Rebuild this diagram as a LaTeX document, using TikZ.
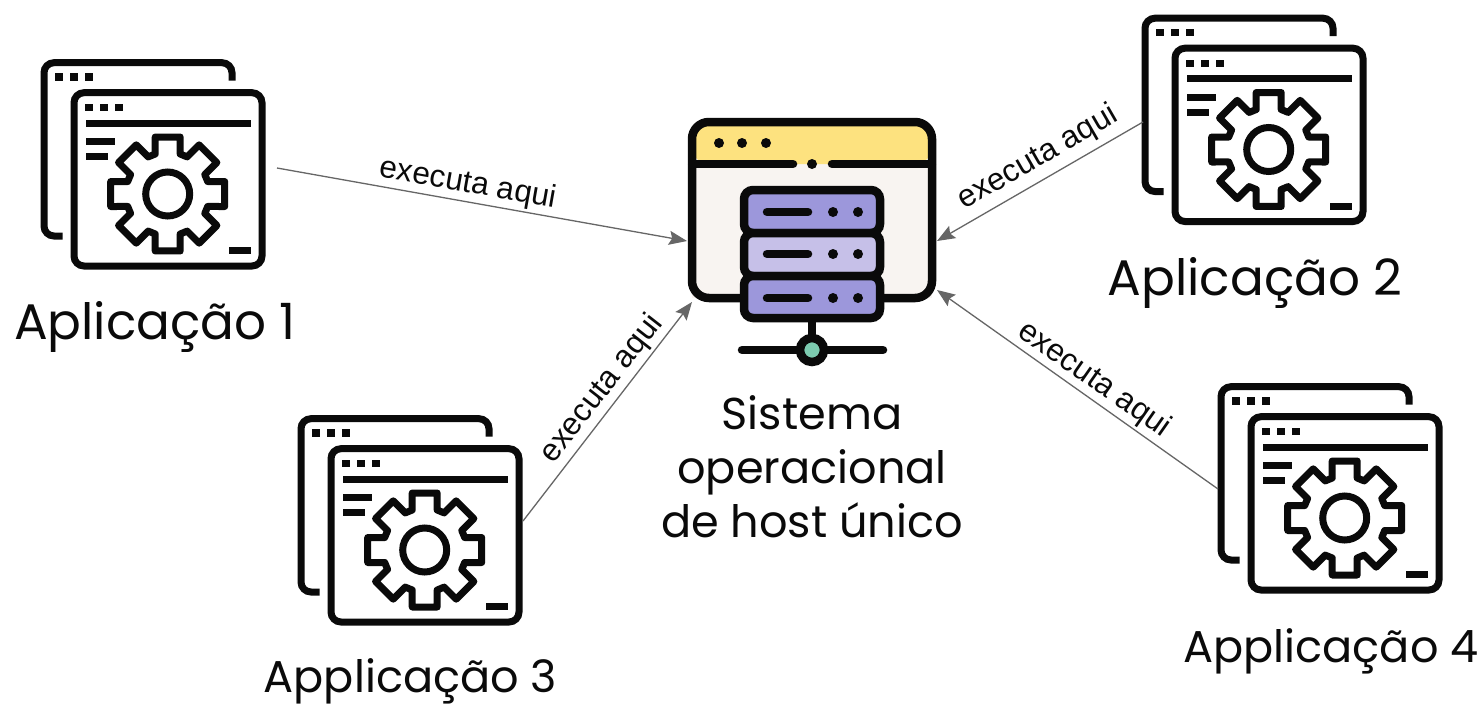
\documentclass[tikz,border=0pt]{standalone}
\usepackage{fontspec}
\setmainfont{Poppins}
\newfontfamily\arialish{Liberation Sans}
\usetikzlibrary{arrows.meta}
\definecolor{srvyellow}{HTML}{FDE27F}
\definecolor{srvbody}{HTML}{F8F4F1}
\definecolor{rackdark}{HTML}{9C97DB}
\definecolor{racklight}{HTML}{C6C0E8}
\definecolor{netgreen}{HTML}{7CCBB0}
\definecolor{ink}{HTML}{0A0A0A}
\definecolor{wire}{HTML}{666666}
\tikzset{
  iconline/.style={draw=ink,line width=7pt},
  srvline/.style={draw=ink,line width=8.5pt,line cap=round},
  iconbox/.style={minimum width=226pt,minimum height=214pt,inner sep=0pt,outer sep=0pt},
  srvbox/.style={minimum width=245pt,minimum height=180pt,inner sep=0pt,outer sep=0pt},
  bigtitle/.style={font=\fontsize{50}{54}\selectfont,text=ink,inner sep=0pt,align=center},
  title/.style={font=\fontsize{44.6}{54}\selectfont,text=ink,inner sep=0pt,align=center},
  runs/.style={font=\arialish\fontsize{31.5}{34}\selectfont,text=ink,inner sep=0pt},
  link/.style={draw=wire,line width=1.3pt,-{Stealth[length=18pt,width=14pt,inset=3pt]}},
  appicon/.pic={
    \draw[iconline,rounded corners=10pt] (232,80.7) -- (232,62.7) -- (44,62.7) -- (44,236) -- (62.7,236);
    \draw[iconline,rounded corners=10pt] (74,92.7) rectangle (262,266);
    \foreach \p in {59,74,89} \fill[ink] (\p-3.7,73.3) rectangle (\p+3.7,80.7);
    \foreach \p in {89,104,119} \fill[ink] (\p-3.7,104) rectangle (\p+3.7,111.4);
    \fill[ink] (85.7,119.5) rectangle (250.7,126.5);
    \fill[ink] (85.7,138.2) rectangle (115,145.2);
    \fill[ink] (85.7,153.2) rectangle (108,160.2);
    \fill[ink] (229,247.2) rectangle (250.7,254.2);
    \draw[iconline,line join=round,shift={(167.7,194)}] (-17.35:41.9)
      \foreach \a in {0,45,...,315} {
        -- (\a-17.35:41.9) -- (\a-12.37:58.35) -- (\a+12.37:58.35) -- (\a+17.35:41.9)
      } -- cycle;
    \draw[iconline] (167.7,194) circle[radius=22];
  }
}
\begin{document}
\begin{tikzpicture}[x=1pt,y=-1pt]
\useasboundingbox (0,0) rectangle (1477,704);
\fill[white] (0,0) rectangle (1477,704);
% applications
\pic at (0,0) {appicon};
\pic at (1101,-44.5) {appicon};
\pic at (257,356) {appicon};
\pic at (1177,324) {appicon};
\node[iconbox] (app1) at (153,164) {};
\node[iconbox] (app2) at (1254,119.5) {};
\node[iconbox] (app3) at (410,520) {};
\node[iconbox] (app4) at (1330,488) {};
% server
\fill[srvbody] (692,160) rectangle (932,298);
\fill[srvyellow,rounded corners=17pt] (692,164) -- (692,122) -- (932,122) -- (932,164) -- cycle;
\draw[srvline,rounded corners=17pt,line cap=butt] (692,164) -- (692,298) -- (932,298) -- (932,164);
\draw[srvline,rounded corners=17pt,line cap=butt] (692,164) -- (692,122) -- (932,122) -- (932,164);
\draw[srvline] (694,164) -- (793,164);
\draw[srvline] (832,164) -- (930,164);
\fill[ink] (812,164) circle[radius=5];
\foreach \p in {719,742,766} \fill[ink] (\p,143) circle[radius=5];
\draw[srvline] (812,318) -- (812,350);
\draw[srvline] (742,350) -- (883,350);
\draw[srvline,fill=netgreen] (812,350) circle[radius=12];
\draw[srvline,fill=rackdark,rounded corners=9pt] (744,190) rectangle (880,233);
\draw[srvline,fill=racklight,rounded corners=9pt] (744,233) rectangle (880,276);
\draw[srvline,fill=rackdark,rounded corners=9pt] (744,276) rectangle (880,318);
\foreach \r in {212,254,298} {
  \draw[srvline] (767,\r) -- (808,\r);
  \fill[ink] (833,\r) circle[radius=5];
  \fill[ink] (858,\r) circle[radius=5];
}
\node[srvbox] (srv) at (812.5,210) {};
% connectors
\draw[link] ([shift={(11,4)}]app1.east) -- ([shift={(-3,31)}]srv.west);
\draw[link] ([shift={(2,2.5)}]app2.west) -- ([shift={(2,31)}]srv.east);
\draw[link] ([shift={(0,1)}]app3.east) -- ([shift={(2,92)}]srv.west);
\draw[link] ([shift={(1,1)}]app4.west) -- ([shift={(2,80)}]srv.east);
% connector labels
\node[runs,rotate=-10] (run1) at (468,184) {executa aqui};
\node[runs,rotate=30] (run2) at (1038,158) {executa aqui};
\node[runs,rotate=52] (run3) at (602,389) {executa aqui};
\node[runs,rotate=-35] (run4) at (1094,380) {executa aqui};
% titles
\node[bigtitle] (t1) at (155,327) {Aplicação 1};
\node[bigtitle] (t2) at (1255,283) {Aplicação 2};
\node[title] (t3) at (410.5,681) {Applicação 3};
\node[title] (t4) at (1331,651) {Applicação 4};
\node[title] (t5) at (812,467) {Sistema\\[0pt]operacional\\[0pt]de host único};
\end{tikzpicture}
\end{document}
